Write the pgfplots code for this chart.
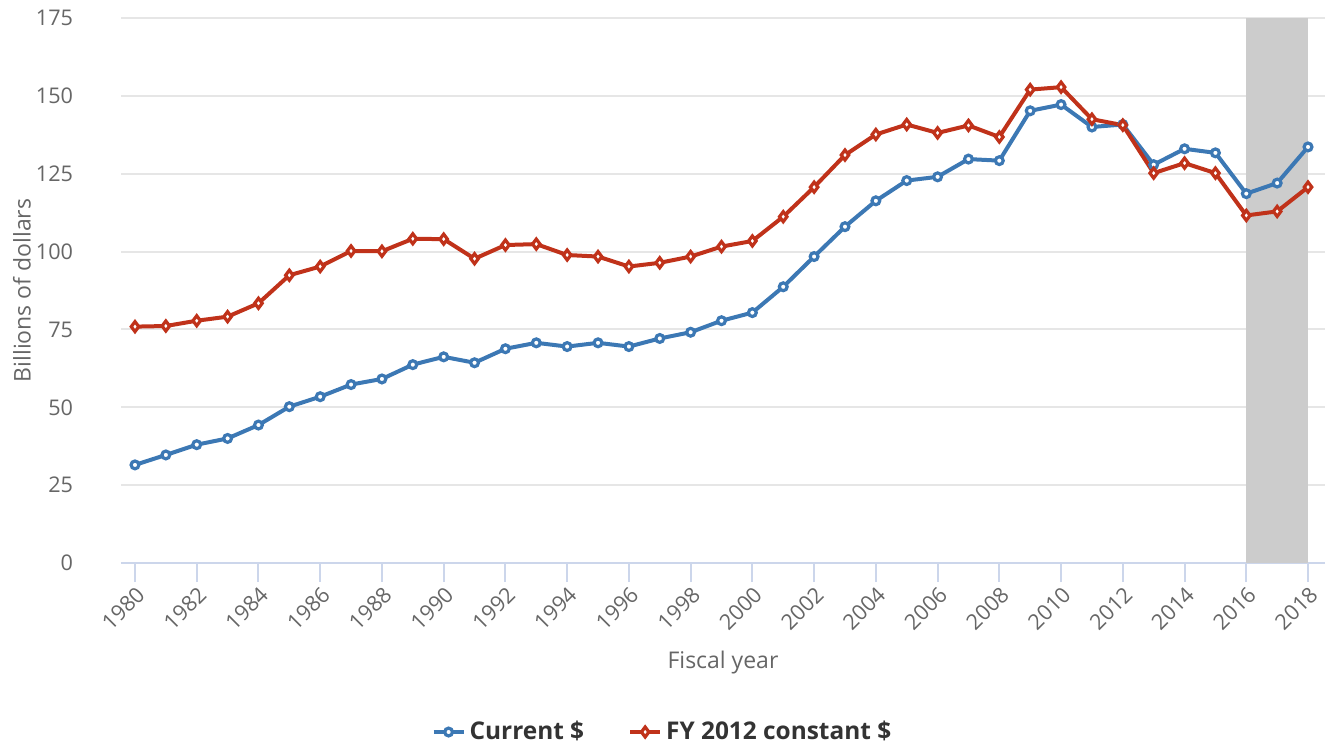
\documentclass[border=0pt]{standalone}
\usepackage{pgfplots}
\pgfplotsset{compat=1.18}
\usepackage{pgfplotstable}
\usepackage{fontspec}
\setmainfont{Open Sans}
\definecolor{cblue}{RGB}{60,120,180}
\definecolor{cred}{RGB}{192,50,26}
\definecolor{axisblue}{HTML}{CCD6EB}
\definecolor{gridgray}{HTML}{E6E6E6}
\definecolor{bandgray}{HTML}{CCCCCC}
\definecolor{txtgray}{HTML}{666666}
\definecolor{legtxt}{HTML}{333333}
\pgfplotstableread{
year cur const
1980 31.5 75.9
1981 34.7 76.1
1982 38.0 77.8
1983 40.0 79.1
1984 44.3 83.4
1985 50.2 92.4
1986 53.4 95.2
1987 57.3 100.2
1988 59.1 100.1
1989 63.7 104.1
1990 66.2 104.0
1991 64.3 97.7
1992 68.8 102.1
1993 70.7 102.4
1994 69.5 98.9
1995 70.7 98.4
1996 69.5 95.2
1997 72.1 96.4
1998 74.1 98.4
1999 77.8 101.6
2000 80.4 103.4
2001 88.7 111.2
2002 98.4 120.7
2003 108.0 131.0
2004 116.3 137.6
2005 122.8 140.8
2006 124.0 138.1
2007 129.7 140.5
2008 129.2 136.8
2009 145.2 152.0
2010 147.2 152.8
2011 140.0 142.5
2012 140.8 140.6
2013 127.9 125.2
2014 133.0 128.4
2015 131.7 125.2
2016 118.6 111.6
2017 122.0 112.9
2018 133.6 120.7
}\datatable
\begin{document}
\begin{tikzpicture}
\begin{axis}[
  at={(0,0)}, anchor=south west,
  scale only axis,
  width=602pt, height=272.5pt,
  xmin=1979.547, xmax=2018.55,
  ymin=0, ymax=175,
  xtick={1980,1982,...,2018},
  ytick={0,25,...,175},
  /pgf/number format/1000 sep={},
  /pgf/number format/assume math mode=true,
  separate axis lines,
  axis x line*=bottom,
  axis y line*=left,
  x axis line style={draw=axisblue, line width=1pt, -},
  y axis line style={draw=none},
  tick align=outside,
  x tick style={draw=axisblue, line width=1pt},
  major tick length=9.5pt,
  y tick style={draw=none},
  ymajorgrids,
  major grid style={draw=gridgray, line width=1pt},
  tick label style={font=\fontsize{10.8pt}{12pt}\selectfont, text=txtgray},
  xticklabel style={rotate=45, anchor=north east, inner sep=1pt},
  yticklabel style={anchor=east, xshift=-11pt},
  xlabel={Fiscal year},
  ylabel={Billions of dollars},
  every axis x label/.style={at={(axis description cs:0.5,-0.1817)}, anchor=center, font=\fontsize{11.5pt}{13pt}\selectfont, text=txtgray},
  every axis y label/.style={at={(axis description cs:-0.0822,0.5)}, anchor=center, rotate=90, font=\fontsize{11.5pt}{13pt}\selectfont, text=txtgray},
  legend columns=2,
  legend style={at={(axis description cs:0.4505,-0.3101)}, anchor=center, draw=none, fill=none,
    font=\bfseries\fontsize{12.2pt}{14pt}\selectfont, text=legtxt,
    /tikz/every even column/.append style={column sep=20pt}},
  legend image code/.code={\draw[mark repeat=2, mark phase=2] plot coordinates {(0pt,0pt) (7.5pt,0pt) (15pt,0pt)};},
  clip=false,
]
\addplot[fill=bandgray, draw=none, forget plot] coordinates {(2016,175) (2018,175)} \closedcycle;
\addplot[cblue, line width=2pt, mark=*, mark size=1.95pt, mark options={fill=white, draw=cblue, line width=1.6pt}] table[x=year, y=cur] {\datatable};
\addlegendentry{Current \$}
\addplot[cred, line width=2pt, mark=diamond*, mark size=2.5pt, mark options={fill=white, draw=cred, line width=1.6pt}] table[x=year, y=const] {\datatable};
\addlegendentry{FY 2012 constant \$}
\end{axis}
\pgfresetboundingbox
\path (-60.5pt,-91.5pt) rectangle (603pt,281.5pt);
\end{tikzpicture}
\end{document}
